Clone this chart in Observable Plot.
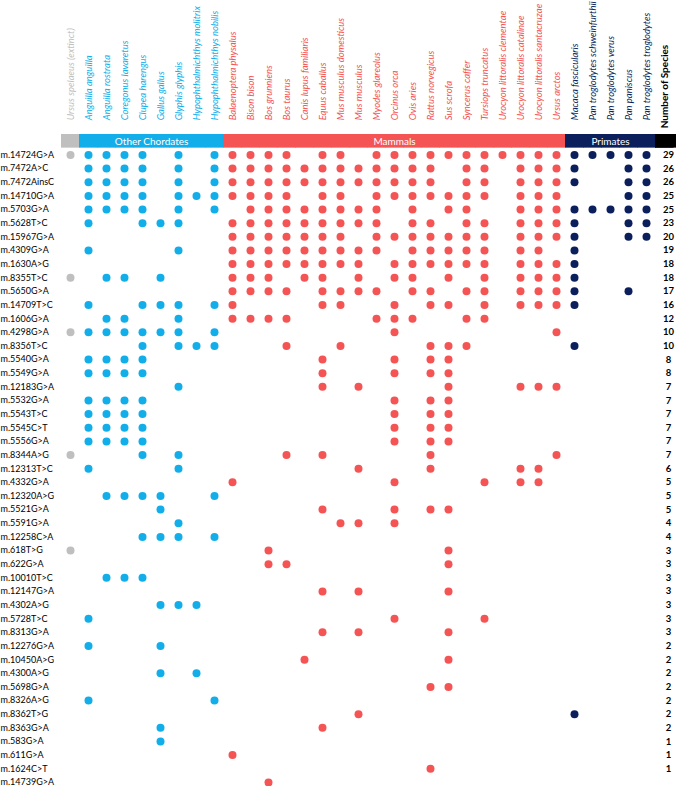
<!DOCTYPE html>
<html><head><meta charset="utf-8">
<script src="https://cdn.jsdelivr.net/npm/d3@7"></script>
<script src="https://cdn.jsdelivr.net/npm/@observablehq/plot@0.6"></script>
<style>
body{margin:0;background:#fff;}
g[aria-label="species-labels"] text{word-spacing:3px}
</style>
</head><body><div id="chart"></div>
<script>
// ---- data ----
const species = [
  "Ursus spelaeus (extinct)",
  "Anguilla anguilla","Anguilla rostrata","Coregonus lavaretus","Clupea harengus","Gallus gallus","Glyphis glyphis","Hypophthalmichthys molitrix","Hypophthalmichthys nobilis",
  "Balaenoptera physalus","Bison bison","Bos grunniens","Bos taurus","Canis lupus familiaris","Equus caballus","Mus musculus domesticus","Mus musculus","Myodes glareolus","Orcinus orca","Ovis aries","Rattus norvegicus","Sus scrofa","Syncerus caffer","Tursiops truncatus","Urocyon littoralis clementae","Urocyon littoralis catalinae","Urocyon littoralis santacruzae","Ursus arctos",
  "Macaca fascicularis","Pan troglodytes schweinfurthii","Pan troglodytes verus","Pan paniscus","Pan troglodytes troglodytes"
];
const speciesGroup = [
  "Extinct",
  "Other Chordates","Other Chordates","Other Chordates","Other Chordates","Other Chordates","Other Chordates","Other Chordates","Other Chordates",
  "Mammals","Mammals","Mammals","Mammals","Mammals","Mammals","Mammals","Mammals","Mammals","Mammals","Mammals","Mammals","Mammals","Mammals","Mammals","Mammals","Mammals","Mammals","Mammals",
  "Primates","Primates","Primates","Primates","Primates"
];
const groups = ["Extinct","Other Chordates","Mammals","Primates","Total"];
const groupColors = ["#bfbfbf","#12aeea","#f45454","#0b1f5c","#000000"];
const countHeader = "Number of Species";

const mutations = [
  "m.14724G>A","m.7472A>C","m.7472AinsC","m.14710G>A","m.5703G>A","m.5628T>C","m.15967G>A","m.4309G>A","m.1630A>G","m.8355T>C",
  "m.5650G>A","m.14709T>C","m.1606G>A","m.4298G>A","m.8356T>C","m.5540G>A","m.5549G>A","m.12183G>A","m.5532G>A","m.5543T>C",
  "m.5545C>T","m.5556G>A","m.8344A>G","m.12313T>C","m.4332G>A","m.12320A>G","m.5521G>A","m.5591G>A","m.12258C>A","m.618T>G",
  "m.622G>A","m.10010T>C","m.12147G>A","m.4302A>G","m.5728T>C","m.8313G>A","m.12276G>A","m.10450A>G","m.4300A>G","m.5698G>A",
  "m.8326A>G","m.8362T>G","m.8363G>A","m.583G>A","m.611G>A","m.1624C>T","m.14739G>A"
];
const speciesCount = [
  29,26,26,25,25,23,20,19,18,18,
  17,16,12,10,10,8,8,7,7,7,
  7,7,7,6,5,5,5,4,4,3,
  3,3,3,3,3,3,2,2,2,2,
  2,2,2,1,1,1,null
];
// indices into `species` of the species carrying each variant
const presence = [
  [0,1,2,3,4,6,8,9,10,11,12,14,15,17,18,19,20,21,22,23,24,25,26,27,28,29,30,31,32],
  [1,2,3,4,6,8,9,10,11,12,13,14,15,16,17,18,19,20,22,23,25,26,27,28,31,32],
  [1,2,3,4,6,8,9,10,11,12,13,14,15,16,17,18,19,20,22,23,25,26,27,28,31,32],
  [1,2,3,4,6,7,8,9,10,11,12,14,15,17,18,19,20,21,22,23,25,26,27,31,32],
  [1,2,3,4,6,8,10,11,12,13,14,15,16,17,19,21,22,25,26,27,28,29,30,31,32],
  [1,4,5,6,9,10,11,12,13,14,15,16,17,19,20,22,23,25,26,27,28,31,32],
  [9,10,11,12,13,14,15,17,18,19,20,21,22,23,25,26,27,28,31,32],
  [1,6,9,10,11,12,13,14,15,16,17,19,20,21,22,23,25,26,28],
  [9,10,11,12,13,14,15,16,18,19,20,21,22,23,25,26,27,28],
  [0,2,3,5,9,10,11,13,14,16,18,19,21,23,25,26,27,28],
  [9,10,11,12,14,15,16,17,19,20,22,23,25,26,27,28,31],
  [1,4,5,6,8,9,14,15,18,20,21,23,25,26,27,28],
  [2,3,6,9,10,11,12,17,18,19,22,23],
  [0,1,2,3,4,5,6,8,18,27],
  [4,6,7,8,12,15,20,21,22,28],
  [1,2,3,4,14,18,20,21],
  [1,2,3,4,14,18,20,21],
  [6,14,16,21,25,26,27],
  [1,2,3,4,18,20,21],
  [1,2,3,4,18,20,21],
  [1,2,3,4,18,20,21],
  [1,2,3,4,18,20,21],
  [0,4,6,12,14,20,27],
  [1,6,16,20,25,26],
  [9,18,23,25,26],
  [2,3,4,5,8],
  [5,14,18,20,21],
  [6,15,16,18],
  [4,5,6,8],
  [0,11,21],
  [11,12,21],
  [2,3,4],
  [14,16,21],
  [5,6,7],
  [1,18,23],
  [14,16,21],
  [1,5],
  [13,21],
  [5,7],
  [20,21],
  [1,8],
  [16,28],
  [5,14],
  [5],
  [9],
  [20],
  [11]
];

// ---- derived tables ----
const HDR = "__header__";
const columns = [...species, countHeader];
const columnGroup = [...speciesGroup, "Total"];
const headerCells = columns.map((c, i) => ({col: c, group: columnGroup[i]}));
const speciesLabels = species.map((s, i) => ({col: s, group: speciesGroup[i]}));
const dots = presence.flatMap((idx, i) => idx.map(j => ({mutation: mutations[i], species: species[j], group: speciesGroup[j]})));
const counts = mutations.map((m, i) => ({mutation: m, n: speciesCount[i]})).filter(d => d.n != null);

const step = 18.16, rowStep = 13.64;
const FONT = "Lato, 'Open Sans', sans-serif";

const chart = Plot.plot({
  width: 678, height: 786, margin: 0,
  style: {background: "#fff", fontFamily: FONT},
  x: {type: "band", domain: columns, range: [57.9, 57.9 + columns.length * step], padding: 0, axis: null},
  y: {type: "band", domain: [HDR, ...mutations], range: [134, 134 + (mutations.length + 1) * rowStep], padding: 0, axis: null},
  color: {domain: groups, range: groupColors},
  marks: [
    Plot.cell(headerCells, {x: "col", y: () => HDR, fill: "group", inset: 0, insetRight: -0.5}),
    Plot.cell([countHeader], {x: d => d, y: () => HDR, fill: "#000", insetRight: -3}),
    Plot.text(["Other Chordates"], {x: () => species[4], y: () => HDR, text: d => d, dx: step / 2, fill: "#fff", fontSize: 10}),
    Plot.text(["Mammals"], {x: () => species[18], y: () => HDR, text: d => d, fill: "#fff", fontSize: 10}),
    Plot.text(["Primates"], {x: () => species[30], y: () => HDR, text: d => d, fill: "#fff", fontSize: 10}),
    Plot.text(speciesLabels, {x: "col", y: () => HDR, text: "col", rotate: -90, textAnchor: "start", lineAnchor: "middle", dy: -21, fill: "group", fontStyle: "italic", fontSize: 9.5, ariaLabel: "species-labels"}),
    Plot.text([countHeader], {x: d => d, y: () => HDR, text: d => d, rotate: -90, textAnchor: "start", lineAnchor: "middle", dy: -13, fill: "#000", fontWeight: "bold", fontSize: 10}),
    Plot.dot(dots, {x: "species", y: "mutation", r: 4, fill: "group"}),
    Plot.text(mutations, {y: d => d, text: d => d, frameAnchor: "left", textAnchor: "start", fill: "#000", fontSize: 9}),
    Plot.text(counts, {x: () => countHeader, y: "mutation", text: "n", dx: 4, fill: "#000", fontWeight: "bold", fontSize: 9.5})
  ]
});
document.getElementById("chart").appendChild(chart);
</script>
</body></html>
